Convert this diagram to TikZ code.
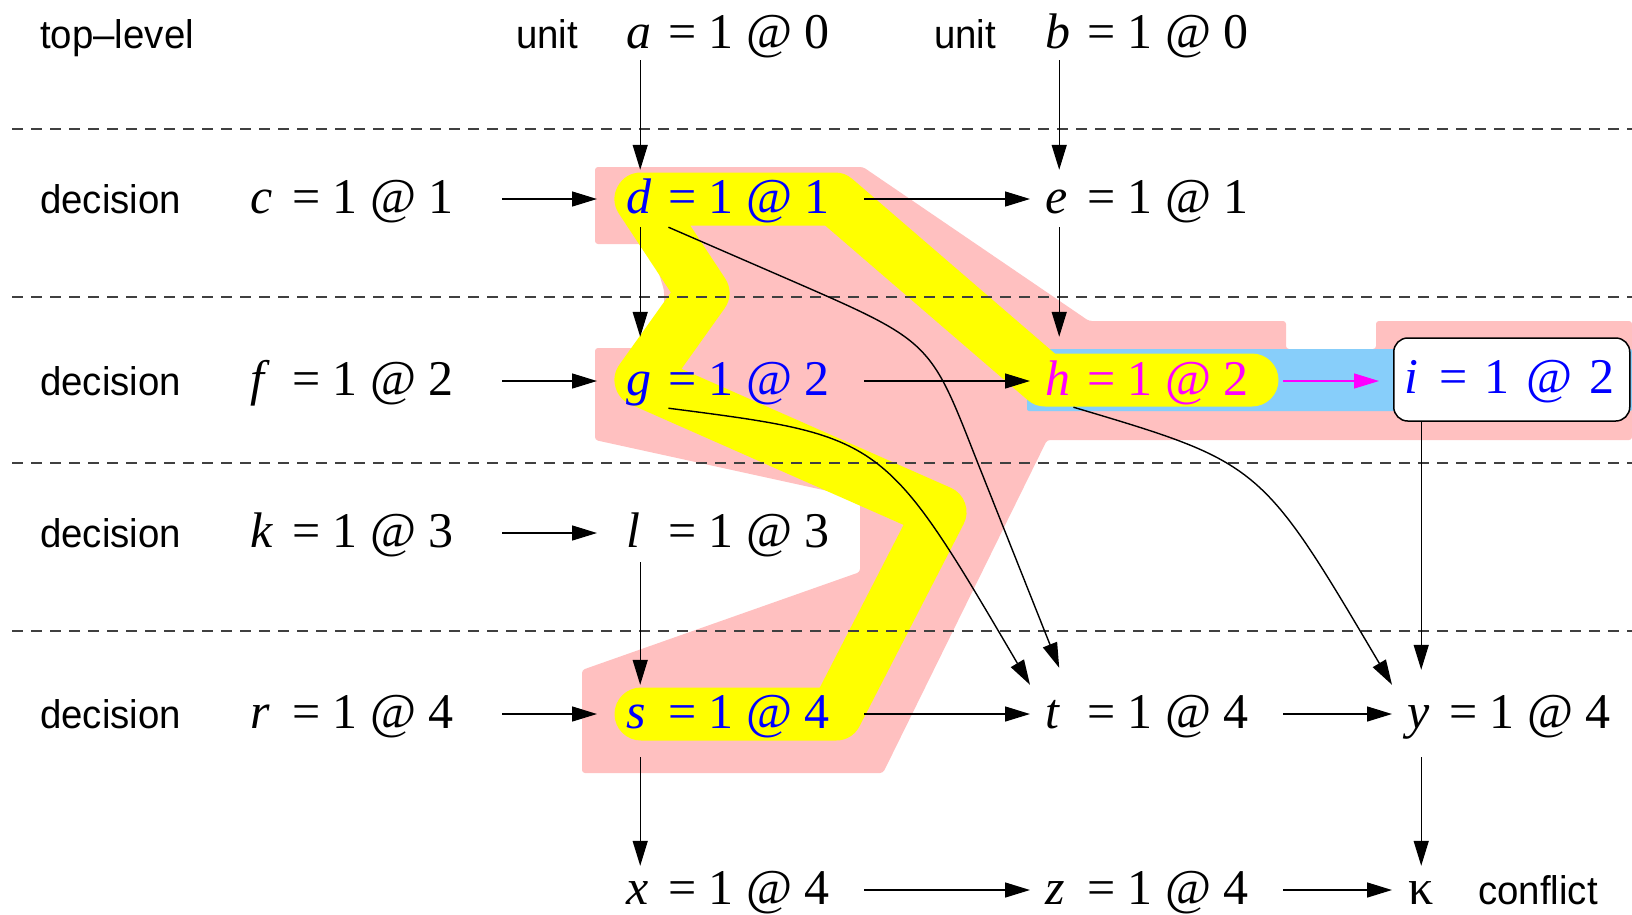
\documentclass[tikz,border=0pt]{standalone}
\usepackage{fontspec}
\setmainfont{Liberation Serif}
\newfontfamily\labfont[FakeStretch=0.96]{Liberation Sans}
\usetikzlibrary{arrows.meta,calc}
\definecolor{pinkr}{RGB}{255,192,192}
\definecolor{skyb}{RGB}{135,206,250}
\definecolor{hiyel}{RGB}{255,255,0}
\definecolor{vblue}{RGB}{0,0,255}
\definecolor{vmag}{RGB}{255,0,255}
\definecolor{dashgray}{RGB}{64,64,64}
\newcommand\mkentry[6]{%
  \node[varn,text=#6] (#1) at (#2,#3) {\makebox[28pt][l]{\itshape #4}};
  \node[valn,text=#6] (#1v) at ([xshift=13.5pt]#1.base east) {#5};
}
\begin{document}
\begin{tikzpicture}[x=1pt,y=-1pt,
  varn/.style={inner sep=0pt,text height=38pt,text depth=10pt,anchor=base west,font=\fontsize{50}{60}\selectfont},
  valn/.style={varn},
  lab/.style={inner sep=0pt,anchor=base west,font=\labfont\fontsize{40}{48}\selectfont},
  arr/.style={line width=1.4pt,-{Triangle[length=25pt,width=15pt]}},
  ha/.style={arr,shorten <=48pt,shorten >=29pt},
  hb/.style={arr,shorten <=34pt,shorten >=15pt},
  sep/.style={dashgray,line width=1.3pt,dash pattern=on 11pt off 8pt},
  ibox/.style={draw,line width=1.5pt,fill=white,rounded corners=14pt,anchor=west,
    inner xsep=11pt,inner ysep=0pt,minimum height=83pt,text width=214pt,align=left,
    text height=38pt,text depth=10pt,text=vblue,font=\fontsize{50}{60}\selectfont},
  hilite/.style={hiyel,line width=53pt,line join=round,line cap=round}
]
\useasboundingbox (0,0) rectangle (1632,914);
\fill[white] (0,0) rectangle (1632,914);

% pink region
\fill[pinkr,rounded corners=3pt] (595,167) -- (863,167) -- (1089,321) -- (1286,321) -- (1286,349)
  -- (1376,349) -- (1376,321) -- (1632,321) -- (1632,440) -- (1047,440) -- (883,773)
  -- (582,773) -- (582,670) -- (860,572) -- (860,498) -- (595,440) -- (595,348)
  -- (664,348) -- (664,290) -- (650,244) -- (595,244) -- cycle;
% blue region
\fill[skyb,rounded corners=2pt] (1027,349) rectangle (1632,411);
% yellow highlight
\draw[hilite] (1252,380) -- (1045,380) -- (835,199) -- (641,199) -- (703,293) -- (641,380)
  -- (940,512) -- (836,714) -- (641,714);

% separators
\draw[sep] (12,129) -- (1632,129);
\draw[sep] (12,297) -- (1632,297);
\draw[sep] (12,463) -- (1632,463);
\draw[sep] (12,631) -- (1632,631);

% labels
\node[lab] (ltop) at (40,48) {top–level};
\node[lab] (unit1) at (516,48) {unit};
\node[lab] (unit2) at (934,48) {unit};
\node[lab] (ldec1) at (40,213) {decision};
\node[lab] (ldec2) at (40,395) {decision};
\node[lab] (ldec3) at (40,547) {decision};
\node[lab] (ldec4) at (40,728) {decision};
\node[lab] (lconf) at (1478,904) {conflict};

% entries
\mkentry{a}{626}{48}{a}{= 1 @ 0}{black}
\mkentry{b}{1045}{48}{b}{= 1 @ 0}{black}
\mkentry{c}{250}{213}{c}{= 1 @ 1}{black}
\mkentry{d}{626}{213}{d}{= 1 @ 1}{vblue}
\mkentry{e}{1045}{213}{e}{= 1 @ 1}{black}
\mkentry{f}{250}{395}{f}{= 1 @ 2}{black}
\mkentry{g}{626}{395}{g}{= 1 @ 2}{vblue}
\mkentry{h}{1045}{395}{h}{= 1 @ 2}{vmag}
\mkentry{k}{250}{547}{k}{= 1 @ 3}{black}
\mkentry{l}{626}{547}{l}{= 1 @ 3}{black}
\mkentry{r}{250}{728}{r}{= 1 @ 4}{black}
\mkentry{s}{626}{728}{s}{= 1 @ 4}{vblue}
\mkentry{t}{1045}{728}{t}{= 1 @ 4}{black}
\mkentry{y}{1407}{728}{y}{= 1 @ 4}{black}
\mkentry{x}{626}{904}{x}{= 1 @ 4}{black}
\mkentry{z}{1045}{904}{z}{= 1 @ 4}{black}
\node[varn] (kap) at (1407,904) {\makebox[28pt]{κ}};
\node[ibox] (i) at (1393,379.5) {\makebox[18.5pt][l]{\itshape i} = 1 @ 2};

% horizontal connectors
\draw[ha] (cv) -- (d);
\draw[ha] (fv) -- (g);
\draw[ha] (kv) -- (l);
\draw[ha] (rv) -- (s);
\draw[hb] (dv) -- (e);
\draw[hb] (gv) -- (h);
\draw[hb] (sv) -- (t);
\draw[hb] (xv) -- (z);
\draw[hb] (tv) -- (y);
\draw[hb] (zv) -- (kap);
\draw[arr,vmag,shorten <=34pt,shorten >=14pt] (hv.east) -- (hv.east -| i.west);

% vertical connectors
\draw[arr,shorten <=2pt,shorten >=5pt] (a) -- (d);
\draw[arr,shorten <=2pt,shorten >=5pt] (b) -- (e);
\draw[arr,shorten <=4pt,shorten >=20pt] (d) -- (g);
\draw[arr,shorten <=4pt,shorten >=20pt] (e) -- (h);
\draw[arr,shorten <=5pt,shorten >=5pt] (l) -- (s);
\draw[arr,shorten <=19pt,shorten >=0pt] (s) -- (x);
\draw[arr,shorten <=19pt,shorten >=0pt] (y) -- (kap);
\draw[arr,shorten >=20pt] (i.south -| y) -- (y);

% curved connectors
\draw[arr] ([shift={(14,4)}]d.south east) -- (790,280) .. controls (930,341) .. (975,456)
  -- ([shift={(0,-22)}]t.north);
\draw[arr] ([shift={(14,3)}]g.south east) .. controls (884,436) and (884,436)
  .. ([shift={(-15,-5)}]t.north west);
\draw[arr] ([shift={(0,2)}]h.south east) .. controls (1261,463) and (1261,463)
  .. ([shift={(-15,-5)}]y.north west);
\end{tikzpicture}
\end{document}
